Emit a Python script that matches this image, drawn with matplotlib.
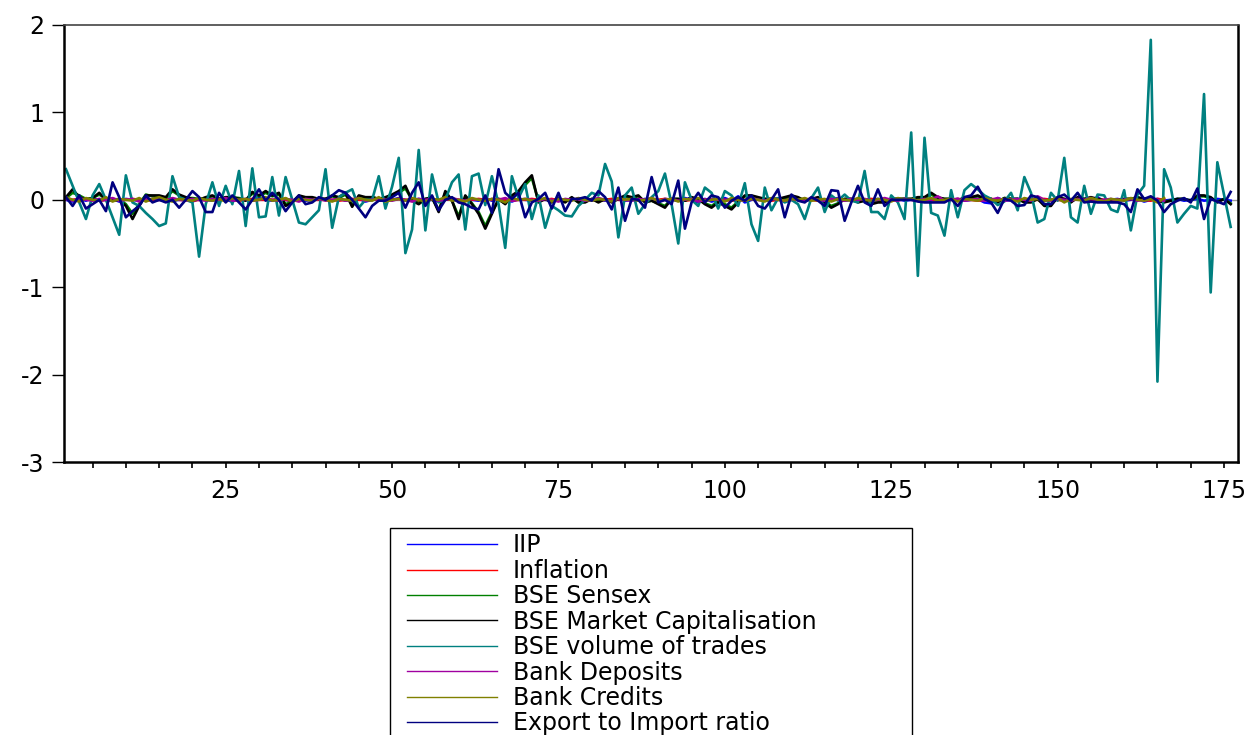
import matplotlib.pyplot as plt
from matplotlib.lines import Line2D
from matplotlib.patches import Rectangle
from matplotlib.ticker import MultipleLocator
import numpy as np

plt.rcParams['font.family'] = ['DejaVu Sans']

# values, in hundredths
iip = [0,-2,1,-1,2,-1,0,1,-2,1, 0,-1,2,-1,0,1,-1,0,2,-2, 1,0,-1,1,0,-2,1,0,-1,2,
       0,-1,1,0,-2,1,-1,0,1,0, -1,2,-1,0,1,-2,0,1,-1,0, 2,-1,0,1,-1,0,-2,1,0,-1,
       1,0,-1,2,-1,0,1,-2,1,0, -1,1,0,-1,2,-1,0,1,-1,0, 1,-1,0,2,-1,0,-1,1,0,-1,
       1,0,-1,2,0,-3,1,-2,0,2, -1,4,-3,0,1,-1,0,1,-1,0, 1,-1,0,1,-1,0,2,-1,0,1,
       -1,0,1,-1,0,1,-1,0,1,-1, 0,2,-1,0,1,-1,0,1,-3,-4, 2,-1,0,1,-1,0,1,-1,0,2,
       -1,0,1,-1,0,3,-2,0,1,-1, 0,1,-2,0,1,-1,0,1,-1,0, 1,-1,0,1,0,-1]
inflation = [1,0,1,1,0,-1,0,1,0,0, 1,0,0,-1,0,1,1,0,0,-1, 0,1,0,0,1,0,-1,0,1,0,
             0,0,1,0,-1,0,1,0,0,1, 0,-1,0,1,0,0,1,0,-1,0, 1,0,0,-1,0,1,0,0,1,0,
             -1,0,1,0,0,1,0,-1,0,0, 1,0,0,1,-1,0,0,1,0,0, -1,0,1,0,0,0,1,-1,0,0,
             1,0,0,-1,0,1,0,0,1,0, -1,0,0,1,0,0,-1,0,1,0, 0,1,0,-1,0,0,1,0,0,-1,
             0,1,0,0,-1,0,1,0,0,1, 0,-1,0,0,1,0,0,-1,0,1, 0,0,1,0,-1,0,0,1,0,0,
             -1,0,1,0,0,1,0,-1,0,0, 1,0,0,-1,1,0]
sensex = [2,8,5,1,2,6,1,0,1,-5, -16,-5,6,4,4,2,10,5,2,2, 1,2,4,1,2,3,2,0,7,4,
          8,4,6,-5,-2,4,2,2,1,1, 4,2,6,-6,4,2,3,1,2,5, 8,13,0,-4,1,2,-12,8,-1,-19,
          4,-4,-14,-30,-14,0,-4,4,8,17, 25,-2,1,-2,1,-2,2,-3,-2,1, -2,1,-2,1,4,2,4,-2,-1,-4,
          -7,1,1,-1,2,1,-4,-7,-2,-5, -9,-2,4,4,2,1,1,1,2,4, 2,-1,1,2,-2,-7,-4,1,1,-2,
          -1,-4,-2,-2,1,1,1,1,2,2, 6,2,1,1,-1,2,2,4,1,1, -2,2,1,1,-2,-2,1,-5,-5,2,
          1,-2,2,1,2,1,-1,-1,-1,1, 1,2,1,2,-1,-2,-1,1,1,-1, 4,4,2,-2,1,-4]
mcap = [3,12,3,0,2,8,0,-1,0,-7, -22,-7,5,5,5,3,12,6,3,1, 0,3,5,1,3,3,1,-1,9,5,
        10,5,8,-7,-3,5,3,3,1,1, 5,3,8,-8,5,3,3,1,3,6, 10,16,-1,-5,1,3,-14,10,-1,-22,
        5,-5,-16,-33,-16,1,-5,5,10,20, 28,-3,1,-3,1,-3,3,-3,-3,1, -3,1,-3,1,5,3,5,-3,-1,-5,
        -9,1,1,-1,3,1,-5,-9,-3,-7, -11,-3,5,5,3,1,1,1,3,5, 3,-1,1,3,-3,-9,-5,1,1,-3,
        -1,-5,-3,-3,1,1,1,1,3,3, 8,3,1,1,-1,3,3,5,1,1, -3,2,1,1,-3,-3,1,-7,-7,3,
        1,-3,3,1,3,1,-1,-1,-1,1, 1,3,1,2,-1,-3,-1,1,1,-1, 5,5,3,-3,1,-5]
volume = [35,16,-3,-22,5,18,0,-20,-40,28, -3,-7,-15,-22,-30,-27,27,3,0,-3,
          -65,-5,20,-7,16,-5,33,-30,36,-20, -19,26,-18,26,0,-26,-28,-20,-12,35,
          -32,3,8,12,-9,0,0,27,-10,15, 48,-61,-34,57,-35,29,-3,0,20,29,
          -34,27,30,-6,27,-5,-55,27,2,18, -22,5,-32,-7,-12,-18,-19,-7,0,8,
          5,41,21,-43,5,14,-16,-5,3,10, 30,-5,-50,20,0,-7,14,8,-10,10,
          5,-7,19,-28,-47,14,-12,2,-3,0, -5,-22,2,14,-14,5,-1,6,-1,-3,
          33,-14,-14,-22,5,-3,-22,77,-87,71, -15,-18,-41,11,-20,11,18,12,5,1,
          -6,-2,8,-12,26,8,-26,-22,8,-1, 48,-20,-26,16,-16,6,5,-11,-14,11,
          -35,6,16,183,-208,35,14,-26,-16,-7, -10,121,-106,43,6,-31]
deposits = [1,-1,2,0,-1,1,0,2,-1,0, 1,-2,0,1,0,-1,2,0,-1,1, 0,-1,1,0,2,-1,0,1,-1,0,
            2,0,-1,1,0,-2,1,0,1,-1, 0,1,-1,0,2,-1,0,1,0,-1, 1,0,-2,1,0,1,-1,0,2,0,
            -1,1,0,-1,1,0,2,-1,0,1, 0,-1,1,0,-2,1,0,1,-1,0, 2,0,-1,1,0,-1,1,0,2,-1,
            0,1,-1,0,1,-2,0,1,0,-1, 1,0,-1,2,0,-1,1,0,-1,1, 0,-1,2,0,-1,1,0,-1,1,0,
            1,-1,0,2,0,-1,1,0,-1,1, 0,4,-1,0,1,-1,0,1,-1,0, 2,-1,0,1,0,-1,4,0,-1,1,
            0,-1,1,0,2,-1,0,1,-1,0, 1,-1,0,1,0,-1]
credits = [3,0,-2,2,0,-1,3,-2,1,0, -1,2,-2,1,3,0,-2,1,0,-1, 2,0,-1,1,-2,2,0,1,-1,0,
           3,-1,0,2,-2,1,0,-1,2,0, -2,1,0,-1,2,0,-1,3,-2,0, 1,-1,2,0,-2,1,0,3,-1,0,
           -2,2,0,-1,1,0,-3,2,0,1, -1,0,2,-2,1,0,-1,2,0,-1, 1,0,-2,2,0,1,-1,0,2,-1,
           0,1,-2,1,0,2,-1,0,1,-2, 2,0,-1,1,0,-2,2,0,-1,1, 0,2,-1,0,1,-2,1,0,-1,2,
           0,-1,1,0,-2,2,0,1,-1,0, 2,-1,0,1,-2,1,0,-1,2,0, -1,1,0,-2,2,0,1,-1,0,2,
           -3,1,0,-1,2,0,-2,1,0,-1, 2,0,-1,1,-3,2]
exp_imp = [3,-7,5,-10,-5,0,-13,20,3,-20, -13,-7,5,-3,0,-3,0,-9,0,10,
           3,-14,-14,8,-3,5,-3,-11,0,12, -1,8,0,-13,-3,5,-5,-3,3,0,
           5,11,8,0,-10,-20,-7,-1,-1,3, 8,-9,8,20,-7,5,-12,0,3,-3,
           -5,-9,-11,5,-15,35,8,1,8,-20, -3,1,8,-10,8,-13,1,1,3,-1,
           10,3,-11,14,-24,1,0,-9,26,-3, 0,-5,22,-33,-3,8,-3,5,3,-9,
           -1,3,-1,5,-7,-10,0,12,-20,6, -1,-3,3,-1,-7,11,10,-24,-3,16,
           -3,-7,12,-7,0,0,0,0,-2,-3, -3,-3,-3,1,-7,3,5,15,1,-3,
           -15,1,-1,-7,-6,5,3,-5,-5,3, 6,-1,8,-3,-2,-3,-3,-3,-3,-5,
           -14,12,1,4,-1,-14,-5,-1,2,-3, 13,-22,1,-2,-5,9]

labels = ["IIP", "Inflation", "BSE Sensex", "BSE Market Capitalisation",
          "BSE volume of trades", "Bank Deposits", "Bank Credits",
          "Export to Import ratio"]
series = [iip, inflation, sensex, mcap, volume, deposits, credits, exp_imp]
colors = ["#0000ff", "#ff0000", "#008000", "#000000",
          "#008080", "#a000a0", "#808000", "#000080"]

fig = plt.figure(figsize=(12.52, 7.35), dpi=100)
ax = fig.add_axes([0.0511, 0.3714, 0.9377, 0.5946])

ax.axhline(0, color="#999999", lw=1, zorder=0)
for s, c in zip(series, colors):
    y = np.array(s) / 100.0
    x = np.arange(1, len(y) + 1)
    ax.plot(x, y, color=c, lw=1.9)

ax.set_xlim(0.7, 177.1)
ax.set_ylim(-3, 2)
ax.xaxis.set_major_locator(MultipleLocator(25))
ax.xaxis.set_minor_locator(MultipleLocator(5))
ax.set_xticks([25, 50, 75, 100, 125, 150, 175])
ax.set_yticks([-3, -2, -1, 0, 1, 2])
ax.set_yticklabels(["-3", "-2", "-1", "0", "1", "2"])
ax.tick_params(axis="x", which="both", direction="out", length=4, width=1.2,
               labelsize=17, pad=8)
ax.tick_params(axis="y", direction="out", length=9, width=1, labelsize=17, pad=5)
for side in ["left", "bottom", "right"]:
    ax.spines[side].set_linewidth(1.8)
ax.spines["top"].set_linewidth(1.2)
ax.spines["top"].set_color("#444444")

# legend box runs off the bottom of the image, as in the original
fig.add_artist(Rectangle((390 / 1252, -0.05), 522 / 1252, 1 - 528 / 735 + 0.05,
                         transform=fig.transFigure, fill=False,
                         edgecolor="black", lw=1))
handles = [Line2D([], [], color=c, lw=1) for c in colors]
fig.legend(handles, labels, loc="upper left",
           bbox_to_anchor=(407 / 1252, 1 - 533.5 / 735),
           bbox_transform=fig.transFigure, borderaxespad=0, borderpad=0,
           fontsize=17, handlelength=3.8, handletextpad=0.68,
           labelspacing=0.06, frameon=False)

plt.savefig("out.png")
